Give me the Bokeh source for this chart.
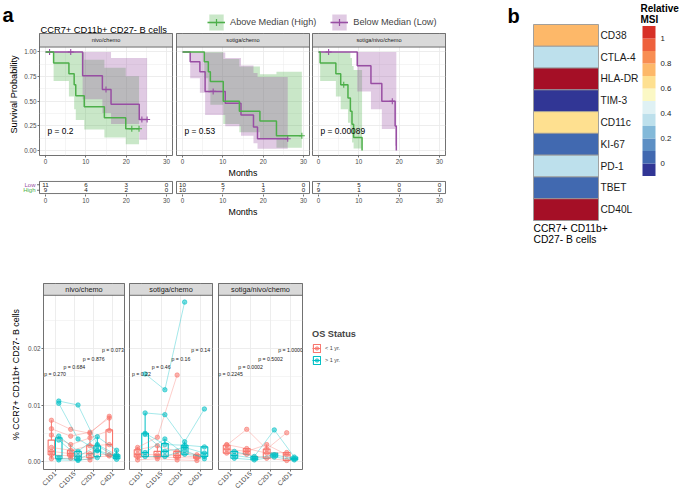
import math
from bokeh.plotting import figure
from bokeh.layouts import row, column
from bokeh.models import (Range1d, FixedTicker, Label, Legend, LegendItem,
                          NumeralTickFormatter, LinearColorMapper, ColumnDataSource)
from bokeh.core.properties import value
from bokeh.embed import file_html
from bokeh.resources import INLINE

FONT = "Liberation Sans"
GREEN = "#4DAF4A"
PURPLE = "#984EA3"
RED = "#F8766D"
TEAL = "#00BFC4"
STRIP_FILL = "#d9d9d9"
BORDER = "#4d4d4d"
GRID = "#ebebeb"
TICKTXT = "#4d4d4d"
NAN = float("nan")

# ================= Panel a : Kaplan-Meier data =================
km_facets = ["nivo/chemo", "sotiga/chemo", "sotiga/nivo/chemo"]
km_pvals = ["p = 0.2", "p = 0.53", "p = 0.00089"]
km_title = "CCR7+ CD11b+ CD27- B cells"
strata = ["Above Median (High)", "Below Median (Low)"]

high_t = [[0, 2.0, 5.8, 7.1, 7.5, 9.6, 14.6, 19.9],
          [0, 5.4, 6.4, 6.9, 10.1, 14.1, 19.2, 23.3],
          [0, 0.4, 4.3, 5.5, 7.3, 7.9, 8.3, 8.7, 10.8]]
high_s = [[1, .889, .778, .667, .556, .444, .333, .222],
          [1, .9, .8, .7, .5, .4, .3, .15],
          [1, .889, .778, .667, .533, .4, .267, .133, 0]]
high_lo = [[1, .705, .549, .42, .31, .214, .132, .065],
           [1, .733, .587, .466, .269, .187, .117, .028],
           [1, .705, .549, .42, .282, .171, .083, .022, 0]]
high_hi = [[1, 1, 1, 1, .996, .92, .84, .755],
           [1, 1, 1, 1, .929, .854, .773, .80],
           [1, 1, 1, 1, 1, .938, .859, .817, 0]]
high_end = [23.2, 29.6, 10.8]
high_cens_t = [[21.4, 23.2], [29.6], [6.25]]
high_cens_s = [[.222, .222], [.15], [.667]]

low_t = [[0, 9.2, 14.1, 16.25, 23.25],
         [0, 1.9, 4.3, 5.6, 10.6, 14.5, 17.6, 18.6],
         [0, 9.6, 13.0, 15.7, 19.0, 19.3]]
low_s = [[1, .76, .62, .47, .315],
         [1, .9, .8, .6, .48, .36, .24, .12],
         [1, .86, .68, .5, .25, 0]]
low_lo = [[1, .52, .38, .27, .11],
          [1, .733, .587, .362, .246, .15, .073, .019],
          [1, .6, .42, .22, .05, 0]]
low_hi = [[1, 1, 1, .94, .94],
          [1, 1, 1, .995, .938, .864, .787, .745],
          [1, 1, 1, 1, 1, 0]]
low_end = [25.2, 26.1, 19.3]
low_cens_t = [[1.0, 6.25, 15.0, 23.9, 25.2], [7.6, 26.1], [2.5, 18.3]]
low_cens_s = [[1, 1, .62, .315, .315], [.6, .12], [1, .5]]

risk_times = [0, 10, 20, 30]
risk_rows = ["Low", "High"]
risk_low = [[11, 6, 3, 0], [10, 5, 1, 0], [7, 5, 0, 0]]
risk_high = [[9, 4, 2, 0], [10, 7, 3, 0], [9, 1, 0, 0]]
km_xticks = [0, 10, 20, 30]
km_yticks = [0, 0.25, 0.5, 0.75, 1.0]

# ================= Panel b : heatmap data =================
markers = ["CD38", "CTLA-4", "HLA-DR", "TIM-3", "CD11c", "KI-67", "PD-1", "TBET", "CD40L"]
msi = [0.75, 0.36, 1.15, -0.05, 0.65, 0.05, 0.36, 0.05, 1.15]
hm_caption = ["CCR7+ CD11b+", "CD27- B cells"]
cbar_title = ["Relative", "MSI"]
cbar_ticks = [0, 0.2, 0.4, 0.6, 0.8, 1.0]
cbar_tick_labels = ["0", "0.2", "0.4", "0.6", "0.8", "1"]
cbar_edges = [-0.1, 0.0, 0.1, 0.2, 0.3, 0.4, 0.5, 0.6, 0.7, 0.8, 0.9, 1.0, 1.1]
cbar_palette = ["#313695", "#4169b0", "#5d8fc4", "#83b9d9", "#bde0ec", "#dff1f4",
                "#fbf8c5", "#fee090", "#fdb869", "#f88d52", "#ee613d", "#d73027"]

# ================= Panel c : longitudinal data =================
c_facets = ["nivo/chemo", "sotiga/chemo", "sotiga/nivo/chemo"]
timepoints = ["C1D1", "C1D15", "C2D1", "C4D1"]
groups = ["< 1 yr.", "> 1 yr."]
c_ytitle = "% CCR7+ CD11b+ CD27- B cells"
c_pvals = [["p = 0.270", "p = 0.684", "p = 0.876", "p = 0.073"],
           ["p = 0.22", "p = 0.46", "p = 0.16", "p = 0.14"],
           ["p = 0.2245", "p = 0.0002", "p = 0.5002", "p = 1.0000"]]
c_pval_y = [0.0155, 0.0168, 0.0181, 0.0197]

patients = [
    {"< 1 yr.": [[0.0073, 0.0057, 0.0050, 0.0080], [0.0058, 0.0045, 0.0052, 0.0077],
                 [0.0047, 0.0030, 0.0042, 0.0055], [0.0025, 0.0020, 0.0028, 0.0030],
                 [0.0018, 0.0014, 0.0014, 0.0012], [0.0012, 0.0010, 0.0007, 0.0010],
                 [0.0005, 0.0006, 0.0003, None]],
     "> 1 yr.": [[0.0107, 0.0100, 0.0030, 0.0012], [0.0103, 0.0040, 0.0020, 0.0009],
                 [0.0045, 0.0018, 0.0044, 0.0020], [0.0038, 0.0009, 0.0028, 0.0008],
                 [0.0006, 0.0004, 0.0019, 0.0004], [0.0003, 0.0002, 0.0007, None]]},
    {"< 1 yr.": [[0.0025, 0.0043, 0.0153, None], [0.0021, 0.0028, 0.0018, 0.0012],
                 [0.0013, 0.0012, 0.0011, 0.0008], [0.0008, 0.0008, 0.0007, 0.0006],
                 [0.0003, 0.0005, 0.0003, 0.0002]],
     "> 1 yr.": [[0.0155, 0.0127, 0.0282, None], [0.0086, 0.0083, 0.0035, 0.0093],
                 [0.0050, 0.0030, 0.0029, 0.0026], [0.0048, 0.0018, 0.0025, 0.0015],
                 [0.0016, 0.0040, 0.0013, 0.0009], [0.0009, 0.0009, 0.0020, 0.0005]]},
    {"< 1 yr.": [[0.0029, 0.0057, 0.0022, 0.0051], [0.0030, 0.0023, 0.0015, 0.0016],
                 [0.0022, 0.0018, 0.0030, 0.0012], [0.0015, 0.0013, 0.0006, 0.0002]],
     "> 1 yr.": [[0.0018, 0.0009, 0.0056, 0.0008], [0.0011, 0.0006, 0.0012, 0.0005],
                 [0.0006, 0.0003, 0.0008, 0.0003]]},
]
box_q1 = [{"< 1 yr.": [.0012, .0010, .0007, .0010], "> 1 yr.": [.0005, .0003, .0009, .0005]},
          {"< 1 yr.": [.0008, .0008, .0007, .0006], "> 1 yr.": [.0009, .0009, .0013, .0009]},
          {"< 1 yr.": [.0015, .0013, .0006, .0002], "> 1 yr.": [.0006, .0003, .0008, .0003]}]
box_med = [{"< 1 yr.": [.0018, .0014, .0014, .0030], "> 1 yr.": [.0010, .0009, .0019, .0009]},
           {"< 1 yr.": [.0013, .0012, .0011, .0008], "> 1 yr.": [.0016, .0018, .0025, .0015]},
           {"< 1 yr.": [.0022, .0018, .0015, .0012], "> 1 yr.": [.0011, .0006, .0012, .0005]}]
box_q3 = [{"< 1 yr.": [.0038, .0020, .0029, .0056], "> 1 yr.": [.0042, .0018, .0028, .0012]},
          {"< 1 yr.": [.0021, .0018, .0018, .0012], "> 1 yr.": [.0050, .0032, .0029, .0026]},
          {"< 1 yr.": [.0029, .0023, .0022, .0016], "> 1 yr.": [.0018, .0009, .0015, .0008]}]
box_wlo = [{"< 1 yr.": [.0005, .0006, .0003, .0010], "> 1 yr.": [.0003, .0002, .0007, .0004]},
           {"< 1 yr.": [.0003, .0005, .0003, .0002], "> 1 yr.": [.0009, .0009, .0013, .0005]},
           {"< 1 yr.": [.0015, .0013, .0006, .0002], "> 1 yr.": [.0006, .0003, .0008, .0003]}]
box_whi = [{"< 1 yr.": [.0073, .0030, .0052, .0080], "> 1 yr.": [.0045, .0018, .0044, .0020]},
           {"< 1 yr.": [.0025, .0028, .0018, .0012], "> 1 yr.": [.0086, .0040, .0035, .0026]},
           {"< 1 yr.": [.0030, .0023, .0030, .0016], "> 1 yr.": [.0018, .0009, .0015, .0008]}]
c_yticks = [0, 0.01, 0.02]
c_yminor = [0.005, 0.015, 0.025]

group_color = {"< 1 yr.": RED, "> 1 yr.": TEAL}
group_offset = {"< 1 yr.": -0.19, "> 1 yr.": 0.19}


# ================= helpers =================
def mkfig(width, height, xr, yr, left, right, top, bottom, **kw):
    p = figure(width=width, height=height, x_range=xr, y_range=yr,
               output_backend="svg", toolbar_location=None, title=None,
               min_border_left=left, min_border_right=right,
               min_border_top=top, min_border_bottom=bottom, **kw)
    p.background_fill_color = "white"
    p.border_fill_color = "white"
    return p


def blank(width, height, xr=None, yr=None):
    p = mkfig(width, height, xr or Range1d(0, 1), yr or Range1d(0, 1), 0, 0, 0, 0,
              x_axis_location=None, y_axis_location=None)
    p.grid.visible = False
    p.outline_line_color = None
    return p


def style_axis(ax, size="6.3px"):
    ax.axis_line_color = None
    ax.major_tick_in = 0
    ax.major_tick_out = 2
    ax.major_tick_line_color = "#333333"
    ax.major_tick_line_width = 0.7
    ax.minor_tick_line_color = None
    ax.major_label_text_font = FONT
    ax.major_label_text_font_size = size
    ax.major_label_text_color = TICKTXT
    ax.major_label_standoff = 1
    ax.axis_label_text_font = FONT
    ax.axis_label_text_font_size = "8.8px"
    ax.axis_label_text_font_style = "normal"
    ax.axis_label_text_color = "#000000"
    ax.axis_label_standoff = 2


def lab(p, x, y, text, size, color="#000000", bold=False, align="left",
        baseline="middle", angle=0.0):
    p.add_layout(Label(x=x, y=y, x_units="screen", y_units="screen", text=text,
                       text_font=FONT, text_font_size=size, text_color=color,
                       text_font_style="bold" if bold else "normal",
                       text_align=align, text_baseline=baseline, angle=angle))


def step_expand(t, end, vals):
    xs, ys = [], []
    bounds = list(t[1:]) + [end]
    for a, b, v in zip(t, bounds, vals):
        xs += [a, b]
        ys += [v, v]
    return xs, ys


def style_grid(p):
    for g in p.grid:
        g.grid_line_color = GRID
        g.grid_line_width = 0.9
        g.minor_grid_line_color = GRID
        g.minor_grid_line_width = 0.5


# ================= Panel a =================
PA_W = 505
HEAD_H = 33
KM_FW = 133
KM_PH = 112
STRIP_A = 14
KM_BOTTOM = 21
km_lefts = [39, 2, 2]
km_rights = [2, 1, PA_W - 39 - 2 - 2 - 1 - 2 - 3 * KM_FW]
KM_X0, KM_X1 = -1.5, 31.5
KM_Y0, KM_Y1 = -0.05, 1.05
PPU_X = KM_FW / (KM_X1 - KM_X0)

head = blank(PA_W, HEAD_H)
lab(head, 2, HEAD_H - 3, "a", "20px", bold=True, baseline="top")
lab(head, 40, 4, km_title, "9.3px", baseline="alphabetic")
items = []
for name, col in zip(strata, [GREEN, PURPLE]):
    ra = head.varea(x=[NAN], y1=[NAN], y2=[NAN], fill_color=col, fill_alpha=0.3)
    rl = head.line(x=[NAN], y=[NAN], line_color=col, line_width=1.6)
    rs = head.scatter(x=[NAN], y=[NAN], marker="cross", size=7, line_color=col, line_width=1.2)
    items.append(LegendItem(label=name, renderers=[ra, rl, rs]))
head.add_layout(Legend(items=items, orientation="horizontal", location=(207, 1),
                       glyph_width=18, glyph_height=20, label_text_font=FONT,
                       label_text_font_size="9.2px", label_standoff=5, spacing=14,
                       padding=0, margin=0, border_line_color=None,
                       background_fill_alpha=0))


def km_fig(i):
    strip_d = STRIP_A * (KM_Y1 - KM_Y0) / KM_PH
    ytop = KM_Y1 + strip_d
    p = mkfig(km_lefts[i] + KM_FW + km_rights[i], KM_PH + STRIP_A + KM_BOTTOM,
              Range1d(KM_X0, KM_X1), Range1d(KM_Y0, ytop),
              km_lefts[i], km_rights[i], 0, KM_BOTTOM,
              y_axis_location="left" if i == 0 else None)
    p.outline_line_color = BORDER
    p.outline_line_width = 0.8
    p.xgrid.ticker = FixedTicker(ticks=km_xticks, minor_ticks=[5, 15, 25])
    p.ygrid.ticker = FixedTicker(ticks=km_yticks, minor_ticks=[.125, .375, .625, .875])
    style_grid(p)
    for ax in p.xaxis:
        style_axis(ax)
        ax.ticker = FixedTicker(ticks=km_xticks)
        ax.axis_label_standoff = 1
        if i == 1:
            ax.axis_label = "Months"
    if i == 0:
        for ax in p.yaxis:
            style_axis(ax)
            ax.ticker = FixedTicker(ticks=km_yticks)
            ax.formatter = NumeralTickFormatter(format="0.00")
            ax.axis_label = "Survival Probability"
            ax.axis_label_text_font_size = "9.2px"
    for t, end, lo, hi, col in [(high_t[i], high_end[i], high_lo[i], high_hi[i], GREEN),
                                (low_t[i], low_end[i], low_lo[i], low_hi[i], PURPLE)]:
        xs, y1 = step_expand(t, end, lo)
        _, y2 = step_expand(t, end, hi)
        p.varea(x=xs, y1=y1, y2=y2, fill_color=col, fill_alpha=0.3)
    for t, s, end, ct, cs, col in [(low_t[i], low_s[i], low_end[i], low_cens_t[i], low_cens_s[i], PURPLE),
                                   (high_t[i], high_s[i], high_end[i], high_cens_t[i], high_cens_s[i], GREEN)]:
        p.step(x=list(t) + [end], y=list(s) + [s[-1]], mode="after",
               line_color=col, line_width=1.5)
        p.scatter(x=ct, y=cs, marker="cross", size=6, line_color=col, line_width=1.1)
    p.text(x=[0.5], y=[0.2], text=[km_pvals[i]], text_font=value(FONT),
           text_font_size="8.4px", text_color="#000000", text_align="left",
           text_baseline="middle")
    p.quad(left=[KM_X0], right=[KM_X1], bottom=[KM_Y1], top=[ytop],
           fill_color=STRIP_FILL, line_color=BORDER, line_width=0.8)
    p.text(x=[(KM_X0 + KM_X1) / 2], y=[(KM_Y1 + ytop) / 2], text=[km_facets[i]],
           text_font=value(FONT), text_font_size="5.6px", text_color="#1a1a1a",
           text_align="center", text_baseline="middle")
    return p


RT_BOX0, RT_BOX1 = 0.4, 2.6
RT_PPU = 5.9
RT_BOTTOM = 24
rt_rows_y = {"Low": 2, "High": 1}
rt_lefts = [2, 1, 1]
rt_widths = [km_lefts[0] - 2 + KM_FW + 1, KM_FW + 2, KM_FW + 2]


def rt_fig(i):
    total_w = km_lefts[i] + KM_FW + km_rights[i]
    fw = rt_widths[i]
    right = total_w - rt_lefts[i] - fw
    if i == 0:
        x0 = KM_X0 - (km_lefts[0] - 2) / PPU_X
    else:
        x0 = KM_X0 - 1 / PPU_X
    x1 = KM_X1 + 1 / PPU_X
    y0, y1 = RT_BOX0 - 1 / RT_PPU, RT_BOX1 + 1 / RT_PPU
    fh = round((y1 - y0) * RT_PPU)
    p = mkfig(total_w, fh + RT_BOTTOM, Range1d(x0, x1), Range1d(y0, y1),
              rt_lefts[i], right, 0, RT_BOTTOM, y_axis_location=None)
    p.outline_line_color = None
    p.grid.visible = False
    for ax in p.xaxis:
        style_axis(ax)
        ax.ticker = FixedTicker(ticks=km_xticks)
        ax.axis_label_standoff = 1
        if i == 1:
            ax.axis_label = "Months"
    p.quad(left=[KM_X0], right=[KM_X1], bottom=[RT_BOX0], top=[RT_BOX1],
           fill_color=None, line_color=BORDER, line_width=0.8)
    if i == 0:
        ys = [rt_rows_y[r] for r in risk_rows]
        p.text(x=[KM_X0 - 4 / PPU_X] * 2, y=ys, text=risk_rows,
               text_color=[PURPLE, GREEN], text_font=value(FONT), text_font_size="6px",
               text_align="right", text_baseline="middle")
        p.segment(x0=[KM_X0 - 2.5 / PPU_X] * 2, x1=[KM_X0] * 2, y0=ys, y1=ys,
                  line_color="#333333", line_width=0.7)
    for key, vals in [("Low", risk_low[i]), ("High", risk_high[i])]:
        p.text(x=risk_times, y=[rt_rows_y[key]] * len(risk_times), text=[str(v) for v in vals],
               text_font=value(FONT), text_font_size="6.2px", text_color="#222222",
               text_align="center", text_baseline="middle")
    return p


panel_a = column(head,
                 row(*[km_fig(i) for i in range(3)]),
                 row(*[rt_fig(i) for i in range(3)]))

# ================= Panel b =================
TOP_H = 245
HM_X0 = 505
HM_CELL_L, HM_CELL_R = 533, 598
HM_CELL_T, HM_CELL_B = 24, 220
CB_X0 = 640
hm_ppx = HM_CELL_R - HM_CELL_L
hm_ppy = (HM_CELL_B - HM_CELL_T) / len(markers)
hm = blank(CB_X0 - HM_X0, TOP_H,
           Range1d(-(HM_CELL_L - HM_X0) / hm_ppx, 1 + (CB_X0 - HM_CELL_R) / hm_ppx),
           Range1d(-(TOP_H - HM_CELL_B) / hm_ppy, len(markers) + HM_CELL_T / hm_ppy))
mapper = LinearColorMapper(palette=cbar_palette, low=cbar_edges[0], high=cbar_edges[-1],
                           low_color="#2b3490", high_color="#a50f26")
row_pos = [len(markers) - k - 0.5 for k in range(len(markers))]
src_hm = ColumnDataSource(dict(x=[0.5] * len(markers), y=row_pos, v=msi))
hm.rect(x="x", y="y", width=1, height=1, source=src_hm,
        fill_color={"field": "v", "transform": mapper}, line_color="#999999", line_width=0.9)
hm.text(x=[1 + 2 / hm_ppx] * len(markers), y=row_pos, text=markers,
        text_font=value(FONT), text_font_size="10.2px", text_color="#1a1a1a",
        text_align="left", text_baseline="middle")
lab(hm, 2, TOP_H - 4, "b", "20px", bold=True, baseline="top")
lab(hm, HM_CELL_L - HM_X0, TOP_H - HM_CELL_B - 2, hm_caption[0], "10.3px", baseline="top")
lab(hm, HM_CELL_L - HM_X0, TOP_H - HM_CELL_B - 13, hm_caption[1], "10.3px", baseline="top")

CB_W = 679 - CB_X0
CB_BAR_L, CB_BAR_R = 642, 655
CB_Y_ZERO, CB_Y_ONE = 163, 38
cb_ppx = CB_BAR_R - CB_BAR_L
cb_ppy = CB_Y_ZERO - CB_Y_ONE
cb = blank(CB_W, TOP_H,
           Range1d(-(CB_BAR_L - CB_X0) / cb_ppx, 1 + (CB_X0 + CB_W - CB_BAR_R) / cb_ppx),
           Range1d(-(TOP_H - CB_Y_ZERO) / cb_ppy, CB_Y_ZERO / cb_ppy))
cb.quad(left=[0] * len(cbar_palette), right=[1] * len(cbar_palette),
        bottom=cbar_edges[:-1], top=cbar_edges[1:], fill_color=cbar_palette,
        line_color=None)
cb.text(x=[1 + 5 / cb_ppx] * len(cbar_ticks), y=cbar_ticks, text=cbar_tick_labels,
        text_font=value(FONT), text_font_size="7.8px", text_color="#1a1a1a",
        text_align="left", text_baseline="middle")
lab(cb, 0, TOP_H - 2, cbar_title[0], "10px", bold=True, baseline="top")
lab(cb, 0, TOP_H - 13, cbar_title[1], "10px", bold=True, baseline="top")

top_row = row(panel_a, hm, cb)

# ================= Panel c =================
C_FH = 189
C_STRIP = 12
C_TOP = 38
C_BOTTOM = 22
C_Y0, C_Y1 = -0.0014, 0.0294
C_X0, C_X1 = 0.4, 4.6
C_LEFT_W = 25
c_lefts = [16, 3, 3]
c_rights = [2, 3, 2]
c_fw = [83, 83, 84]
cat_x = list(range(1, len(timepoints) + 1))
C_H = C_TOP + C_FH + C_BOTTOM

cleft = blank(C_LEFT_W, C_H)
lab(cleft, 0, C_H - C_TOP + 1, "c", "20px", bold=True, baseline="top")
lab(cleft, 15, C_H - (399 - TOP_H), c_ytitle, "8.9px", align="center", angle=math.pi / 2)


def c_fig(i):
    strip_d = C_STRIP * (C_Y1 - C_Y0) / (C_FH - C_STRIP)
    ytop = C_Y1 + strip_d
    p = mkfig(c_lefts[i] + c_fw[i] + c_rights[i], C_H,
              Range1d(C_X0, C_X1), Range1d(C_Y0, ytop),
              c_lefts[i], c_rights[i], C_TOP, C_BOTTOM,
              y_axis_location="left" if i == 0 else None)
    p.outline_line_color = BORDER
    p.outline_line_width = 0.8
    p.xgrid.ticker = FixedTicker(ticks=cat_x)
    p.ygrid.ticker = FixedTicker(ticks=c_yticks, minor_ticks=c_yminor)
    style_grid(p)
    for ax in p.xaxis:
        style_axis(ax, "6.6px")
        ax.ticker = FixedTicker(ticks=cat_x)
        ax.major_label_overrides = {k: t for k, t in zip(cat_x, timepoints)}
        ax.major_label_orientation = math.pi / 4
    if i == 0:
        for ax in p.yaxis:
            style_axis(ax, "6.4px")
            ax.ticker = FixedTicker(ticks=c_yticks)
            ax.formatter = NumeralTickFormatter(format="0.00")
    hw = 0.17
    for g in groups:
        col = group_color[g]
        xs = [x + group_offset[g] for x in cat_x]
        p.segment(x0=xs, y0=box_q3[i][g], x1=xs, y1=box_whi[i][g], line_color=col, line_width=1)
        p.segment(x0=xs, y0=box_q1[i][g], x1=xs, y1=box_wlo[i][g], line_color=col, line_width=1)
        p.quad(left=[x - hw for x in xs], right=[x + hw for x in xs],
               bottom=box_q1[i][g], top=box_q3[i][g], fill_color="white",
               fill_alpha=0.5, line_color=col, line_width=1.1)
        p.segment(x0=[x - hw for x in xs], y0=box_med[i][g], x1=[x + hw for x in xs],
                  y1=box_med[i][g], line_color=col, line_width=1.3)
    for g in groups:
        col = group_color[g]
        off = group_offset[g]
        lxs, lys, pxs, pys = [], [], [], []
        for traj in patients[i][g]:
            lx = [x + off for x, v in zip(cat_x, traj) if v is not None]
            ly = [v for v in traj if v is not None]
            lxs.append(lx)
            lys.append(ly)
            pxs += lx
            pys += ly
        p.multi_line(xs=lxs, ys=lys, line_color=col, line_alpha=0.4, line_width=0.9)
        p.scatter(x=pxs, y=pys, size=4.5, fill_color=col, line_color=col,
                  fill_alpha=0.55, line_alpha=0.55)
    p.text(x=cat_x, y=c_pval_y, text=c_pvals[i], text_font=value(FONT),
           text_font_size="5.2px", text_color="#222222", text_align="center",
           text_baseline="middle")
    p.quad(left=[C_X0], right=[C_X1], bottom=[C_Y1], top=[ytop],
           fill_color=STRIP_FILL, line_color=BORDER, line_width=0.8)
    p.text(x=[(C_X0 + C_X1) / 2], y=[(C_Y1 + ytop) / 2], text=[c_facets[i]],
           text_font=value(FONT), text_font_size="7.3px", text_color="#1a1a1a",
           text_align="center", text_baseline="middle")
    return p


cleg = blank(85, C_H)
leg_items = []
for g in groups:
    col = group_color[g]
    rb = cleg.quad(left=[NAN], right=[NAN], bottom=[NAN], top=[NAN], fill_color="white",
                   line_color=col, line_width=1.1)
    rm = cleg.segment(x0=[NAN], y0=[NAN], x1=[NAN], y1=[NAN], line_color=col, line_width=1.1)
    rp = cleg.scatter(x=[NAN], y=[NAN], size=4, fill_color=col, line_color=col,
                      fill_alpha=0.6, line_alpha=0.6)
    leg_items.append(LegendItem(label=g, renderers=[rb, rm, rp]))
cleg.add_layout(Legend(items=leg_items, title="OS Status", location=(8, 104),
                       title_text_font=FONT, title_text_font_size="9.2px",
                       title_text_font_style="bold", title_standoff=4,
                       label_text_font=FONT, label_text_font_size="5.5px",
                       glyph_width=9, glyph_height=10, label_standoff=4, spacing=2,
                       padding=0, margin=0, border_line_color=None,
                       background_fill_alpha=0))

bottom_row = row(cleft, *[c_fig(i) for i in range(3)], cleg)

layout = column(top_row, bottom_row)
open("out.html", "w").write(file_html(layout, INLINE))
